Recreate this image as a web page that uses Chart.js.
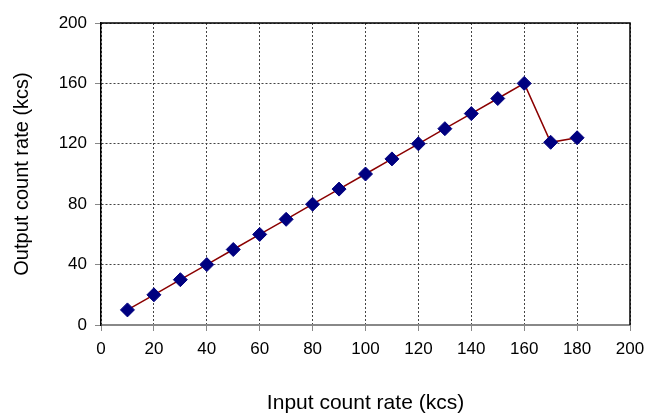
<!DOCTYPE html>
<html>
<head>
<meta charset="utf-8">
<script src="https://cdn.jsdelivr.net/npm/chart.js@4/dist/chart.umd.min.js"></script>
<style>
  html, body { margin: 0; padding: 0; background: #fff; }
  #wrap { width: 655px; height: 416px; }
</style>
</head>
<body>
<div id="wrap"><canvas id="c" width="655" height="416"></canvas></div>
<script>
// input count rate (kcs)
const inputRate = [10, 20, 30, 40, 50, 60, 70, 80, 90, 100, 110, 120, 130, 140, 150, 160, 170, 180];
// output count rate (kcs)
const outputRate = [10, 20, 30, 40, 50, 60, 70, 80, 90, 100, 110, 120, 130, 140, 150, 160, 121, 124];

const xTitle = 'Input count rate (kcs)';
const yTitle = 'Output count rate (kcs)';

const font = 'Liberation Sans, Arial, sans-serif';

// top and right frame lines
const frame = {
  id: 'frame',
  afterDraw(chart) {
    const { ctx, chartArea: a } = chart;
    ctx.save();
    ctx.strokeStyle = '#000';
    ctx.lineWidth = 1.5;
    ctx.beginPath();
    ctx.moveTo(a.left, a.top);
    ctx.lineTo(a.right, a.top);
    ctx.lineTo(a.right, a.bottom);
    ctx.stroke();
    ctx.restore();
  }
};

new Chart(document.getElementById('c'), {
  type: 'scatter',
  data: {
    datasets: [{
      data: inputRate.map((x, i) => ({ x, y: outputRate[i] })),
      showLine: true,
      borderColor: '#8b0000',
      borderWidth: 1.5,
      pointStyle: 'rectRot',
      pointRadius: 7,
      pointBackgroundColor: '#000080',
      pointBorderColor: '#000080',
      pointBorderWidth: 1
    }]
  },
  options: {
    responsive: false,
    animation: false,
    layout: { padding: { top: 23, right: 25, left: 0, bottom: 0 } },
    plugins: { legend: { display: false }, tooltip: { enabled: false } },
    scales: {
      x: {
        type: 'linear',
        min: 0,
        max: 200,
        afterFit: s => { s.height = 91; },
        ticks: { stepSize: 20, color: '#000', padding: 8, font: { family: font, size: 17 } },
        grid: { color: '#444', tickColor: '#888', tickBorderDash: [], tickLength: 6, lineWidth: 1 },
        border: { color: '#888', width: 2, dash: [2, 2] },
        title: { display: true, text: xTitle, color: '#000', padding: { top: 0, bottom: 0 }, font: { family: font, size: 21 } }
      },
      y: {
        min: 0,
        max: 200,
        afterFit: s => { s.width = 101; },
        ticks: { stepSize: 40, color: '#000', padding: 8, font: { family: font, size: 17 } },
        grid: { color: '#444', tickColor: '#888', tickBorderDash: [], tickLength: 6, lineWidth: 1 },
        border: { color: '#000', width: 1.5, dash: [2, 2] },
        title: { display: true, text: yTitle, color: '#000', padding: { top: 10, bottom: 0 }, font: { family: font, size: 20 } }
      }
    }
  },
  plugins: [frame]
});
</script>
</body>
</html>
